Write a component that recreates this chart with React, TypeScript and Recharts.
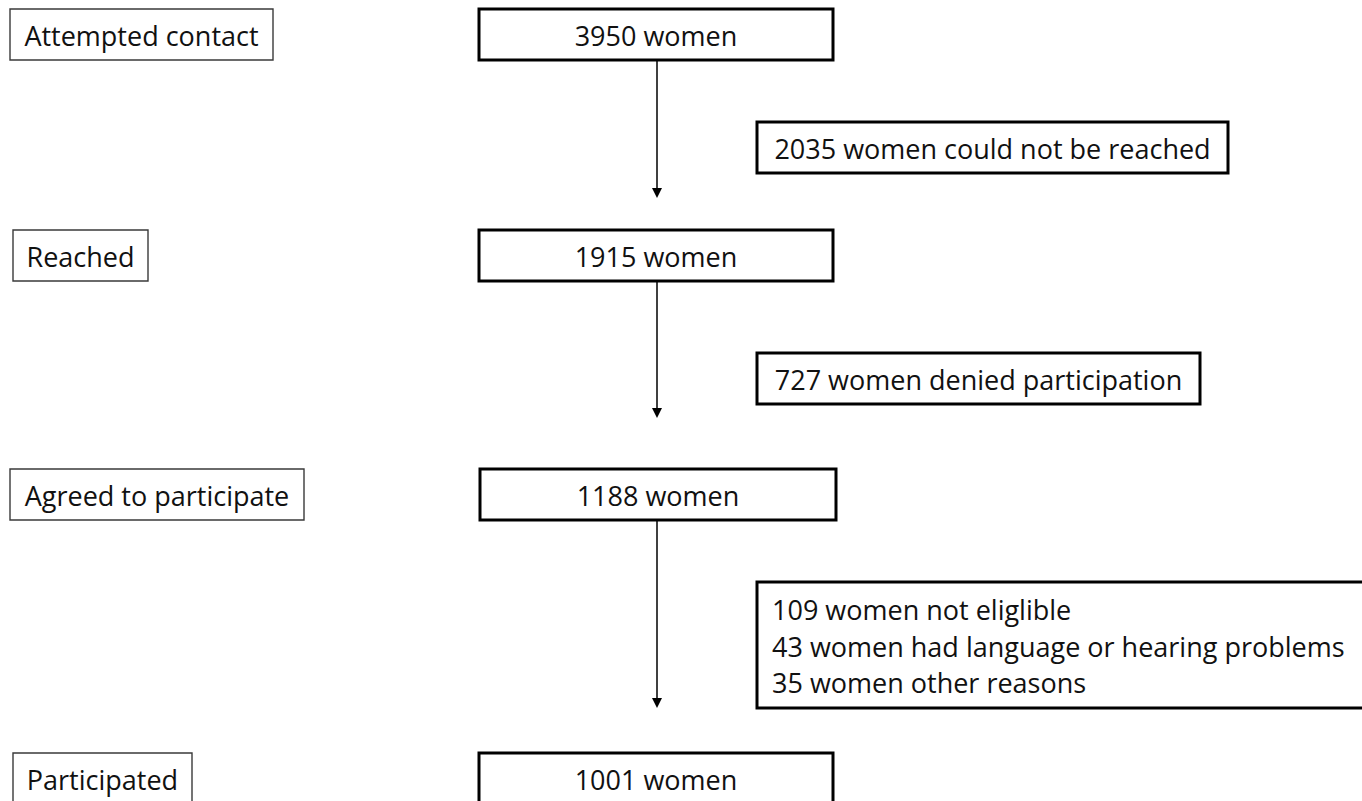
import React from "react";
import { ComposedChart, XAxis, YAxis, ReferenceArea, ReferenceLine, Scatter } from "recharts";

// ---- data ----
const stageLabels = ["Attempted contact", "Reached", "Agreed to participate", "Participated"];
const stageCounts = [3950, 1915, 1188, 1001];
const exclusionLines: string[][] = [
  ["2035 women could not be reached"],
  ["727 women denied participation"],
  ["109 women not eliglible", "43 women had language or hearing problems", "35 women other reasons"],
];

// ---- layout (chart coordinate space = pixel grid) ----
const W = 1362;
const H = 801;
const FONT = "'Open Sans', Lato, sans-serif";
const FS = 27;
const rowTop = [9, 230, 469, 753];
const rowBottom = [60, 281, 520, 815];
const leftBoxRight = [273, 148, 304, 192];
const leftBoxLeft = [10, 13, 10, 13];
const centerLeft = [479, 479, 480, 479];
const centerRight = [833, 833, 836, 833];
const arrowX = 657;
const exclTop = [122, 353, 582];
const exclBottom = [173, 404, 708];
const exclLeft = [757, 757, 757];
const exclRight = [1228, 1200, 1375];
const arrowEnd = [198, 418, 708];

const centerText = (value: string) => (props: any) => {
  const vb = props.viewBox || {};
  return (
    <text
      x={vb.x + vb.width / 2}
      y={vb.y + 26}
      textAnchor="middle"
      dominantBaseline="central"
      fontFamily={FONT}
      fontSize={FS}
      fill="#111"
    >
      {value}
    </text>
  );
};

const leftText = (lines: string[]) => (props: any) => {
  const vb = props.viewBox || {};
  const n = lines.length;
  const lh = 36.5;
  const cy = vb.y + vb.height / 2 + 1;
  return (
    <g>
      {lines.map((l, i) => (
        <text
          key={i}
          x={n > 1 ? vb.x + 15 : vb.x + vb.width / 2}
          y={cy + (i - (n - 1) / 2) * lh}
          textAnchor={n > 1 ? "start" : "middle"}
          dominantBaseline="central"
          fontFamily={FONT}
          fontSize={FS}
          fill="#111"
        >
          {l}
        </text>
      ))}
    </g>
  );
};

const Arrow = (props: any) => {
  const { x1, y1, x2, y2 } = props;
  const head = 10;
  return (
    <g>
      <line x1={x1} y1={y1} x2={x2} y2={y2 - head + 1} stroke="#000" strokeWidth={1.5} />
      <polygon points={`${x2 - 5},${y2 - head} ${x2 + 5},${y2 - head} ${x2},${y2}`} fill="#000" />
    </g>
  );
};

const corners = [
  { x: 0, y: 0 },
  { x: W, y: H },
];

export default function App() {
  return (
    <div style={{ position: "absolute", left: 0, top: 0, width: W, height: H, background: "#fff" }}>
      <ComposedChart width={W} height={H} margin={{ top: 0, right: 0, bottom: 0, left: 0 }}>
        <XAxis type="number" dataKey="x" domain={[0, W]} hide allowDataOverflow />
        <YAxis type="number" dataKey="y" domain={[0, H]} reversed hide allowDataOverflow />
        <Scatter data={corners} fill="none" isAnimationActive={false} shape={() => <g />} />
        {stageLabels.map((lab, i) => (
          <ReferenceArea
            key={"l" + i}
            x1={leftBoxLeft[i]}
            x2={leftBoxRight[i]}
            y1={rowTop[i]}
            y2={rowBottom[i]}
            ifOverflow="visible"
            fill="#fff"
            fillOpacity={1}
            stroke="#3a3a3a"
            strokeWidth={1.4}
            label={centerText(lab)}
          />
        ))}
        {stageCounts.map((c, i) => (
          <ReferenceArea
            key={"c" + i}
            x1={centerLeft[i]}
            x2={centerRight[i]}
            y1={rowTop[i]}
            y2={rowBottom[i]}
            ifOverflow="visible"
            fill="#fff"
            fillOpacity={1}
            stroke="#000"
            strokeWidth={3}
            label={centerText(`${c} women`)}
          />
        ))}
        {exclusionLines.map((lines, i) => (
          <ReferenceArea
            key={"e" + i}
            x1={exclLeft[i]}
            x2={exclRight[i]}
            y1={exclTop[i]}
            y2={exclBottom[i]}
            ifOverflow="visible"
            fill="#fff"
            fillOpacity={1}
            stroke="#000"
            strokeWidth={3}
            label={leftText(lines)}
          />
        ))}
        {arrowEnd.map((e, i) => (
          <ReferenceLine
            key={"a" + i}
            segment={[
              { x: arrowX, y: rowBottom[i] + 1 },
              { x: arrowX, y: e },
            ]}
            ifOverflow="visible"
            shape={Arrow}
          />
        ))}
      </ComposedChart>
    </div>
  );
}
